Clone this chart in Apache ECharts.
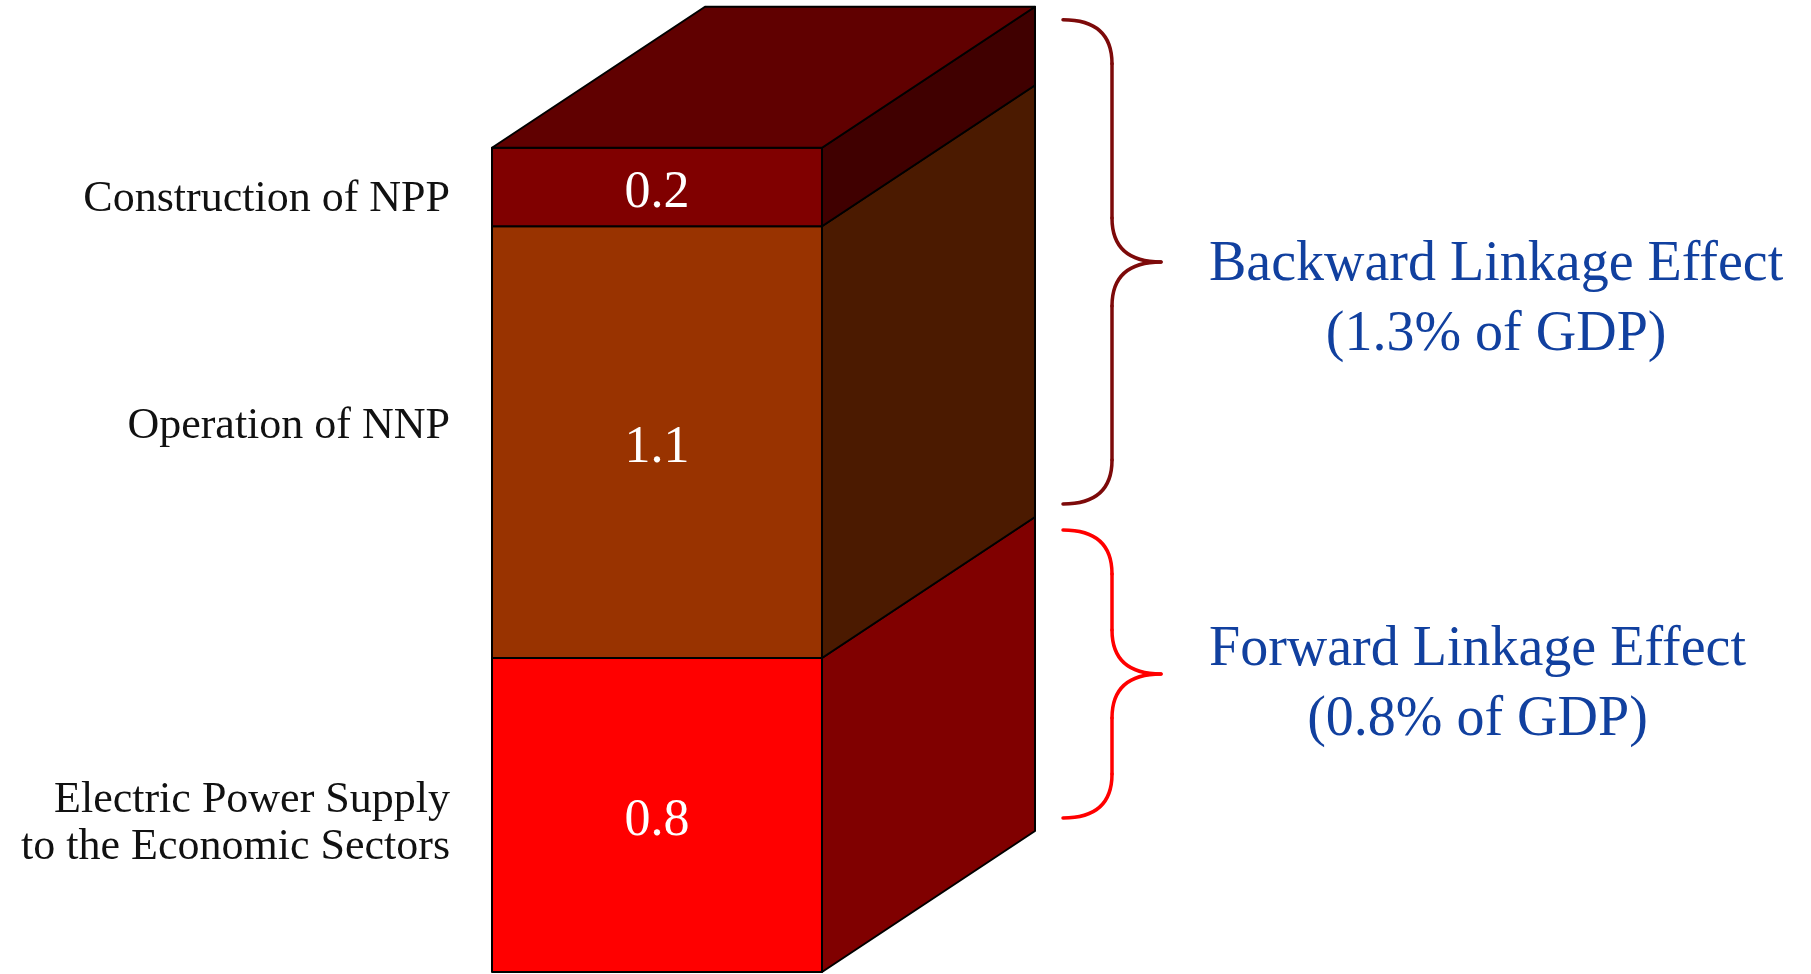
<!DOCTYPE html>
<html>
<head>
<meta charset="utf-8">
<script src="https://cdn.jsdelivr.net/npm/echarts@6/dist/echarts.min.js"></script>
<style>
  html, body { margin: 0; padding: 0; background: #fff; }
  #chart { width: 1811px; height: 974px; }
</style>
</head>
<body>
<div id="chart"></div>
<script>
// Contributions to GDP (%), stacked from the bottom up
const categories = ['Electric Power Supply\nto the Economic Sectors', 'Operation of NNP', 'Construction of NPP'];
const values = [0.8, 1.1, 0.2];

// Linkage groups: which stacked segments each brace covers
const groupNames = ['Forward Linkage Effect', 'Backward Linkage Effect'];
const groupMembers = [[0], [1, 2]];

// Styling
const frontColors = ['#ff0000', '#993300', '#800000'];
const sideColors = ['#800000', '#4b1a00', '#400000'];
const topColor = '#600000';
const braceColors = ['#ff0000', '#7d0a0a'];
const DEPTH_X = 213, DEPTH_Y = -141;
const SERIF = '"Liberation Serif", "DejaVu Serif", serif';
// small vertical nudges (px) for the side captions and the brace captions
const captionShift = [9, -16, 12];
const braceTextShift = [-11, 16];

// stacked start / end for each segment
const starts = [];
let acc = 0;
values.forEach(v => { starts.push(acc); acc += v; });
const total = acc;

const segData = values.map((v, i) => [starts[i], starts[i] + v, v, i]);
const groupData = groupMembers.map((m, g) => {
  const lo = starts[m[0]];
  const hi = starts[m[m.length - 1]] + values[m[m.length - 1]];
  return [lo, hi, g];
});

const measureCtx = document.createElement('canvas').getContext('2d');
function textWidth(t, font) { measureCtx.font = font; return measureCtx.measureText(t).width; }

function renderSegment(params, api) {
  const lo = api.value(0), hi = api.value(1), val = api.value(2), i = api.value(3);
  const bl = api.coord([0, lo]);
  const tr = api.coord([1, hi]);
  const xL = bl[0], xR = tr[0], yB = bl[1], yT = tr[1];
  const edge = { stroke: '#000', lineWidth: 2, lineJoin: 'round' };
  const children = [
    { type: 'polygon', shape: { points: [[xR, yB], [xR, yT], [xR + DEPTH_X, yT + DEPTH_Y], [xR + DEPTH_X, yB + DEPTH_Y]] },
      style: Object.assign({ fill: sideColors[i] }, edge) },
    { type: 'rect', shape: { x: xL, y: yT, width: xR - xL, height: yB - yT },
      style: Object.assign({ fill: frontColors[i] }, edge) },
    { type: 'text', x: (xL + xR) / 2, y: (yT + yB) / 2 + 6,
      style: { text: val.toFixed(1), fill: '#fff', font: '52px ' + SERIF, align: 'center', verticalAlign: 'middle' } },
    { type: 'text', x: xL - 42, y: (yT + yB) / 2 + captionShift[i],
      style: { text: categories[i], fill: '#111', font: '44px ' + SERIF, align: 'right', verticalAlign: 'middle', lineHeight: 47 } }
  ];
  if (Math.abs(hi - total) < 1e-9) {
    children.push({ type: 'polygon',
      shape: { points: [[xL, yT], [xL + DEPTH_X, yT + DEPTH_Y], [xR + DEPTH_X, yT + DEPTH_Y], [xR, yT]] },
      style: Object.assign({ fill: topColor }, edge) });
  }
  return { type: 'group', children };
}

function renderBrace(params, api) {
  const lo = api.value(0), hi = api.value(1), g = api.value(2);
  const pLo = api.coord([1, lo]), pHi = api.coord([1, hi]);
  const y0 = pHi[1] + DEPTH_Y + 13;
  const y1 = pLo[1] + DEPTH_Y - 13;
  const ym = (y0 + y1) / 2;
  const x0 = pLo[0] + DEPTH_X + 28;
  const xm = x0 + 49;
  const xt = x0 + 98;
  const r = 44;
  const st = { stroke: braceColors[g], lineWidth: 3.5, fill: 'none', lineCap: 'round' };
  const q = (a, c, b) => ({ type: 'bezierCurve', shape: { x1: a[0], y1: a[1], cpx1: c[0], cpy1: c[1], x2: b[0], y2: b[1] }, style: st });
  const ln = (a, b) => ({ type: 'line', shape: { x1: a[0], y1: a[1], x2: b[0], y2: b[1] }, style: st });
  const line1 = groupNames[g];
  const line2 = '(' + (hi - lo).toFixed(1) + '% of GDP)';
  const font = '56px ' + SERIF;
  const cx = xt + 48 + textWidth(line1, font) / 2;
  const cy = ym + 22 + braceTextShift[g];
  const txt = (t, y) => ({ type: 'text', x: cx, y, style: { text: t, fill: '#11409f', font, align: 'center', verticalAlign: 'middle' } });
  return { type: 'group', children: [
    q([x0, y0], [xm, y0], [xm, y0 + r]),
    ln([xm, y0 + r], [xm, ym - r]),
    q([xm, ym - r], [xm, ym], [xt, ym]),
    q([xt, ym], [xm, ym], [xm, ym + r]),
    ln([xm, ym + r], [xm, y1 - r]),
    q([xm, y1 - r], [xm, y1], [x0, y1]),
    txt(line1, cy - 35),
    txt(line2, cy + 35)
  ] };
}

const chart = echarts.init(document.getElementById('chart'), null, { renderer: 'canvas' });
chart.setOption({
  backgroundColor: '#ffffff',
  animation: false,
  grid: { left: 492, right: 989, top: 30, bottom: 2 },
  xAxis: { type: 'value', min: 0, max: 1, show: false },
  yAxis: { type: 'value', min: 0, max: 2.4, show: false },
  series: [
    { type: 'custom', renderItem: renderSegment, data: segData, clip: false,
      encode: { y: [0, 1] } },
    { type: 'custom', renderItem: renderBrace, data: groupData, clip: false,
      encode: { y: [0, 1] } }
  ]
});
</script>
</body>
</html>
